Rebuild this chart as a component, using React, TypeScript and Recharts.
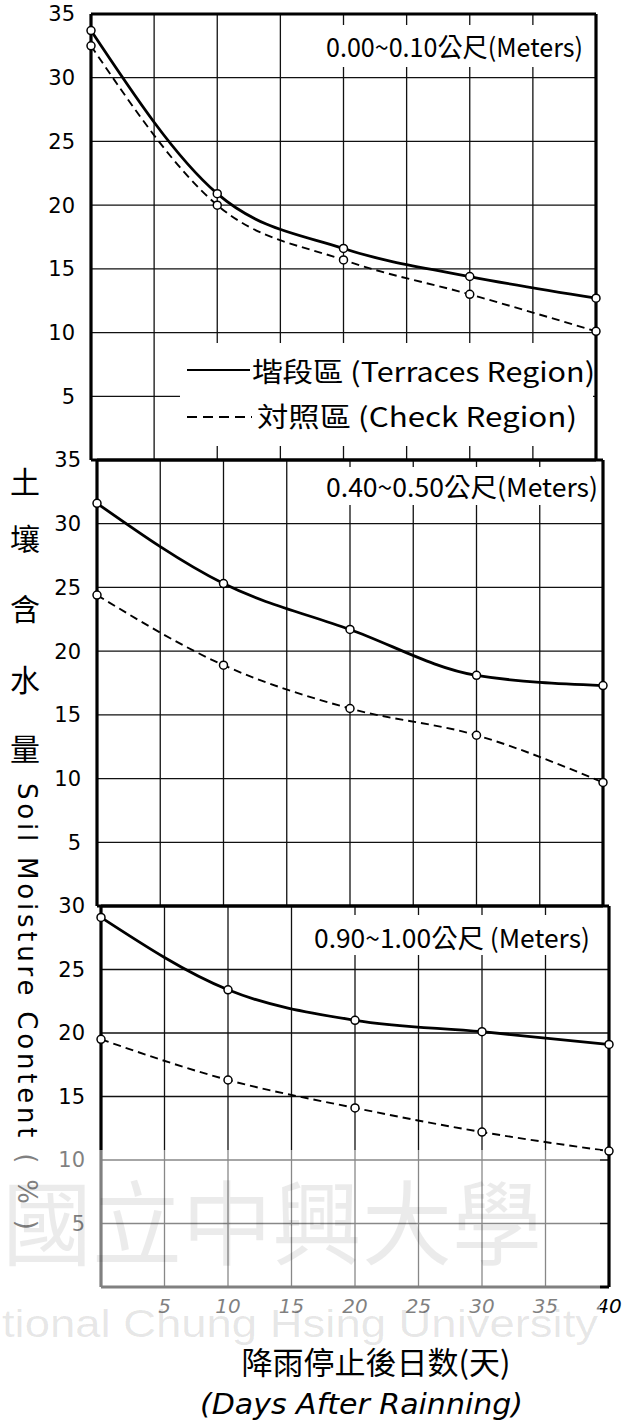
import React from 'react';
import { LineChart, Line, XAxis, YAxis, CartesianGrid, ReferenceLine } from 'recharts';

// ---- data ----
const days = [0, 10, 20, 30, 40];
const xTicks = [0, 5, 10, 15, 20, 25, 30, 35, 40];
const yTicks35 = [0, 5, 10, 15, 20, 25, 30, 35];
const yTicks30 = [0, 5, 10, 15, 20, 25, 30];

const terraces010 = [33.7, 20.9, 16.6, 14.4, 12.7];
const check010 = [32.5, 20.0, 15.7, 13.0, 10.1];
const terraces4050 = [31.6, 25.3, 21.7, 18.1, 17.3];
const check4050 = [24.4, 18.9, 15.5, 13.4, 9.7];
const terraces90100 = [29.1, 23.4, 21.0, 20.1, 19.1];
const check90100 = [19.5, 16.3, 14.1, 12.2, 10.7];

const panelTitles = ['0.00~0.10公尺(Meters)', '0.40~0.50公尺(Meters)', '0.90~1.00公尺 (Meters)'];
const legendTerraces = '堦段區 (Terraces Region)';
const legendCheck = '対照區 (Check Region)';
const yTitleZh = ['土', '壤', '含', '水', '量'];
const yTitleEn = 'Soil Moisture Content ( % )';
const xTitleZh = '降雨停止後日数(天)';
const xTitleEn = '(Days After Rainning)';
const watermarkEn = 'tional Chung Hsing University';
const watermarkZh = '國立中興大學';

const CJK = '"Noto Sans CJK TC", "Noto Sans CJK JP", "Noto Sans", sans-serif';
const NUM = '"DejaVu Sans", "Noto Sans", sans-serif';

type PanelProps = {
  terr: number[];
  chk: number[];
  yMax: number;
  yTicks: number[];
  left: number;
  right: number;
  top: number;
  bottom: number;
  showX: boolean;
};

function Panel({ terr, chk, yMax, yTicks, left, right, top, bottom, showX }: PanelProps) {
  const data = days.map((d, i) => ({ day: d, t: terr[i], c: chk[i] }));
  const mt = 18;
  const xh = showX ? 44 : 0;
  const mb = showX ? 0 : 16;
  const h = bottom - top + mt + mb + xh;
  const blankZero = (v: number) => (v === 0 ? '' : String(v));
  return (
    <div style={{ position: 'absolute', left: 0, top: top - mt }}>
      <LineChart width={623} height={h} data={data} margin={{ top: mt, right: 623 - right, bottom: mb, left: 0 }}>
        <CartesianGrid stroke="#111" strokeWidth={1.3} />
        <XAxis
          type="number"
          dataKey="day"
          domain={[0, 40]}
          ticks={xTicks}
          interval={0}
          hide={!showX}
          height={xh}
          axisLine={false}
          tickLine={false}
          tickSize={0}
          tickMargin={12}
          tickFormatter={blankZero}
          tick={{ fill: '#000', fontSize: 20, fontFamily: NUM, fontStyle: 'italic' }}
        />
        <YAxis
          type="number"
          domain={[0, yMax]}
          ticks={yTicks}
          interval={0}
          width={left}
          axisLine={false}
          tickLine={false}
          tickSize={0}
          tickMargin={16}
          tickFormatter={blankZero}
          tick={{ fill: '#000', fontSize: 21, fontFamily: NUM }}
        />
        <ReferenceLine x={0} stroke="#000" strokeWidth={3.2} />
        <ReferenceLine x={40} stroke="#000" strokeWidth={3.2} />
        <ReferenceLine y={0} stroke="#000" strokeWidth={3.2} />
        <ReferenceLine y={yMax} stroke="#000" strokeWidth={3.2} />
        <Line
          type="monotone"
          dataKey="c"
          stroke="#000"
          strokeWidth={1.9}
          strokeDasharray="8 5"
          dot={{ r: 4, fill: '#fff', stroke: '#000', strokeWidth: 1.5, strokeDasharray: '0' }}
          isAnimationActive={false}
        />
        <Line
          type="monotone"
          dataKey="t"
          stroke="#000"
          strokeWidth={2.8}
          dot={{ r: 4, fill: '#fff', stroke: '#000', strokeWidth: 1.5 }}
          isAnimationActive={false}
        />
      </LineChart>
    </div>
  );
}

export default function App() {
  return (
    <div style={{ position: 'absolute', left: 0, top: 0, width: 623, height: 1428, background: '#fff', overflow: 'hidden' }}>
      <Panel terr={terraces010} chk={check010} yMax={35} yTicks={yTicks35} left={91} right={596} top={14} bottom={460} showX={false} />
      <Panel terr={terraces4050} chk={check4050} yMax={35} yTicks={yTicks35} left={97} right={603} top={460} bottom={906} showX={false} />
      <Panel terr={terraces90100} chk={check90100} yMax={30} yTicks={yTicks30} left={101} right={609} top={906} bottom={1287} showX={true} />

      <svg width={623} height={1428} style={{ position: 'absolute', left: 0, top: 0, pointerEvents: 'none' }}>
        {/* panel titles */}
        <rect x={318} y={25} width={275} height={42} fill="#fff" />
        <text x={326} y={45} fontSize={26} fontFamily={CJK} dominantBaseline="central" textLength={257} lengthAdjust="spacingAndGlyphs">{panelTitles[0]}</text>
        <rect x={318} y={467} width={283} height={38} fill="#fff" />
        <text x={326} y={485} fontSize={26} fontFamily={CJK} dominantBaseline="central" textLength={272} lengthAdjust="spacingAndGlyphs">{panelTitles[1]}</text>
        <rect x={300} y={915} width={307} height={40} fill="#fff" />
        <text x={314} y={936} fontSize={26} fontFamily={CJK} dominantBaseline="central" textLength={276} lengthAdjust="spacingAndGlyphs">{panelTitles[2]}</text>

        {/* legend */}
        <rect x={180} y={343} width={413} height={103} fill="#fff" />
        <line x1={187} y1={370} x2={250} y2={370} stroke="#000" strokeWidth={2} />
        <text x={252} y={370} fontSize={27} fontFamily={CJK} dominantBaseline="central" textLength={343} lengthAdjust="spacingAndGlyphs">{legendTerraces}</text>
        <line x1={187} y1={417} x2={252} y2={417} stroke="#000" strokeWidth={2} strokeDasharray="10 6" />
        <text x={257} y={415} fontSize={27} fontFamily={CJK} dominantBaseline="central" textLength={320} lengthAdjust="spacingAndGlyphs">{legendCheck}</text>

        {/* y-axis title */}
        {yTitleZh.map((ch, i) => (
          <text key={ch} x={25} y={[480, 537, 607, 678, 747][i]} fontSize={30} fontFamily={CJK} textAnchor="middle" dominantBaseline="central">{ch}</text>
        ))}
        <text transform="translate(27,783) rotate(90)" x={0} y={0} fontSize={26} fontFamily={NUM} dominantBaseline="central" textLength={447} lengthAdjust="spacing">{yTitleEn}</text>

        {/* x-axis title */}
        <text x={376} y={1360} fontSize={31} fontFamily={CJK} textAnchor="middle" dominantBaseline="central">{xTitleZh}</text>
        <text x={200} y={1404} fontSize={28} fontFamily={NUM} fontStyle="italic" dominantBaseline="central" textLength={323} lengthAdjust="spacingAndGlyphs">{xTitleEn}</text>

        {/* watermark */}
        <rect x={0} y={1150} width={600} height={190} fill="#fff" fillOpacity={0.5} />
        <text x={2} y={1258} fontSize={92} fontFamily={CJK} fill="#000" fillOpacity={0.08} textLength={540} lengthAdjust="spacingAndGlyphs">{watermarkZh}</text>
        <text x={2} y={1337} fontSize={38} fontFamily='"Liberation Sans", Arial, sans-serif' fill="#000" fillOpacity={0.1} textLength={596} lengthAdjust="spacingAndGlyphs">{watermarkEn}</text>
      </svg>
    </div>
  );
}
